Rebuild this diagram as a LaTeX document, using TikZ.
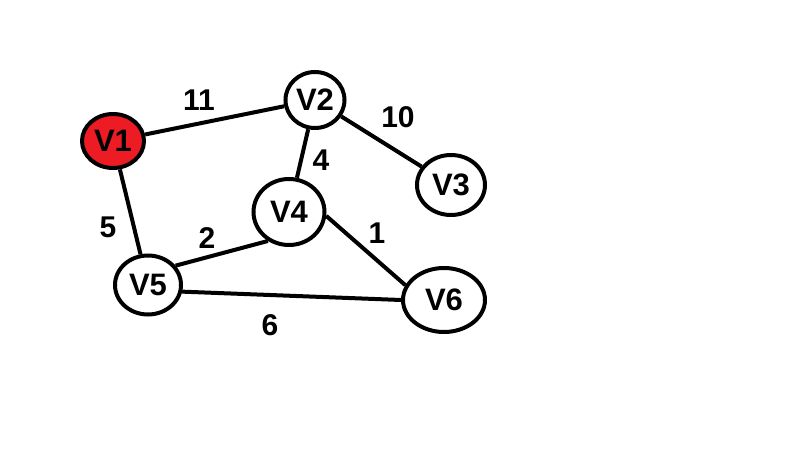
\documentclass[tikz,border=0pt]{standalone}
\usepackage{fontspec}
\setmainfont{Liberation Sans}
\usetikzlibrary{shapes.geometric}
\definecolor{paintred}{HTML}{ED1C24}
\begin{document}
\begin{tikzpicture}[x=1pt,y=-1pt,
  vert/.style={ellipse,draw=black,line width=4pt,inner sep=0pt,font=\fontsize{31}{31}\selectfont\bfseries},
  wlabel/.style={font=\fontsize{30}{30}\selectfont\bfseries,inner sep=0pt},
  edge/.style={line width=4pt}]
\useasboundingbox (0,0) rectangle (807,454);
\node[vert,fill=paintred,minimum width=62pt,minimum height=54pt] (v1) at (113,141) {V1};
\node[vert,minimum width=59pt,minimum height=56pt] (v2) at (315,100) {V2};
\node[vert,minimum width=68pt,minimum height=60pt] (v3) at (451,185) {V3};
\node[vert,minimum width=71pt,minimum height=66pt] (v4) at (289,212) {V4};
\node[vert,minimum width=66pt,minimum height=59pt] (v5) at (148,285) {V5};
\node[vert,minimum width=82pt,minimum height=64pt] (v6) at (444,300) {V6};
\draw[edge] (v1) -- (v2);
\draw[edge] (v2) -- (v3);
\draw[edge] (v2) -- (v4);
\draw[edge] (v1) -- (v5);
\draw[edge] (v5.35) -- (v4.234);
\draw[edge] (v4.354) -- (v6.159);
\draw[edge] (v5.349) -- (v6.180);
\node[wlabel] (l11) at (199,100) {11};
\node[wlabel] (l10) at (398,117) {10};
\node[wlabel] (l4) at (321,160) {4};
\node[wlabel] (l5) at (108,227) {5};
\node[wlabel] (l2) at (207,238) {2};
\node[wlabel] (l1) at (377,233) {1};
\node[wlabel] (l6) at (270,325) {6};
\end{tikzpicture}
\end{document}
